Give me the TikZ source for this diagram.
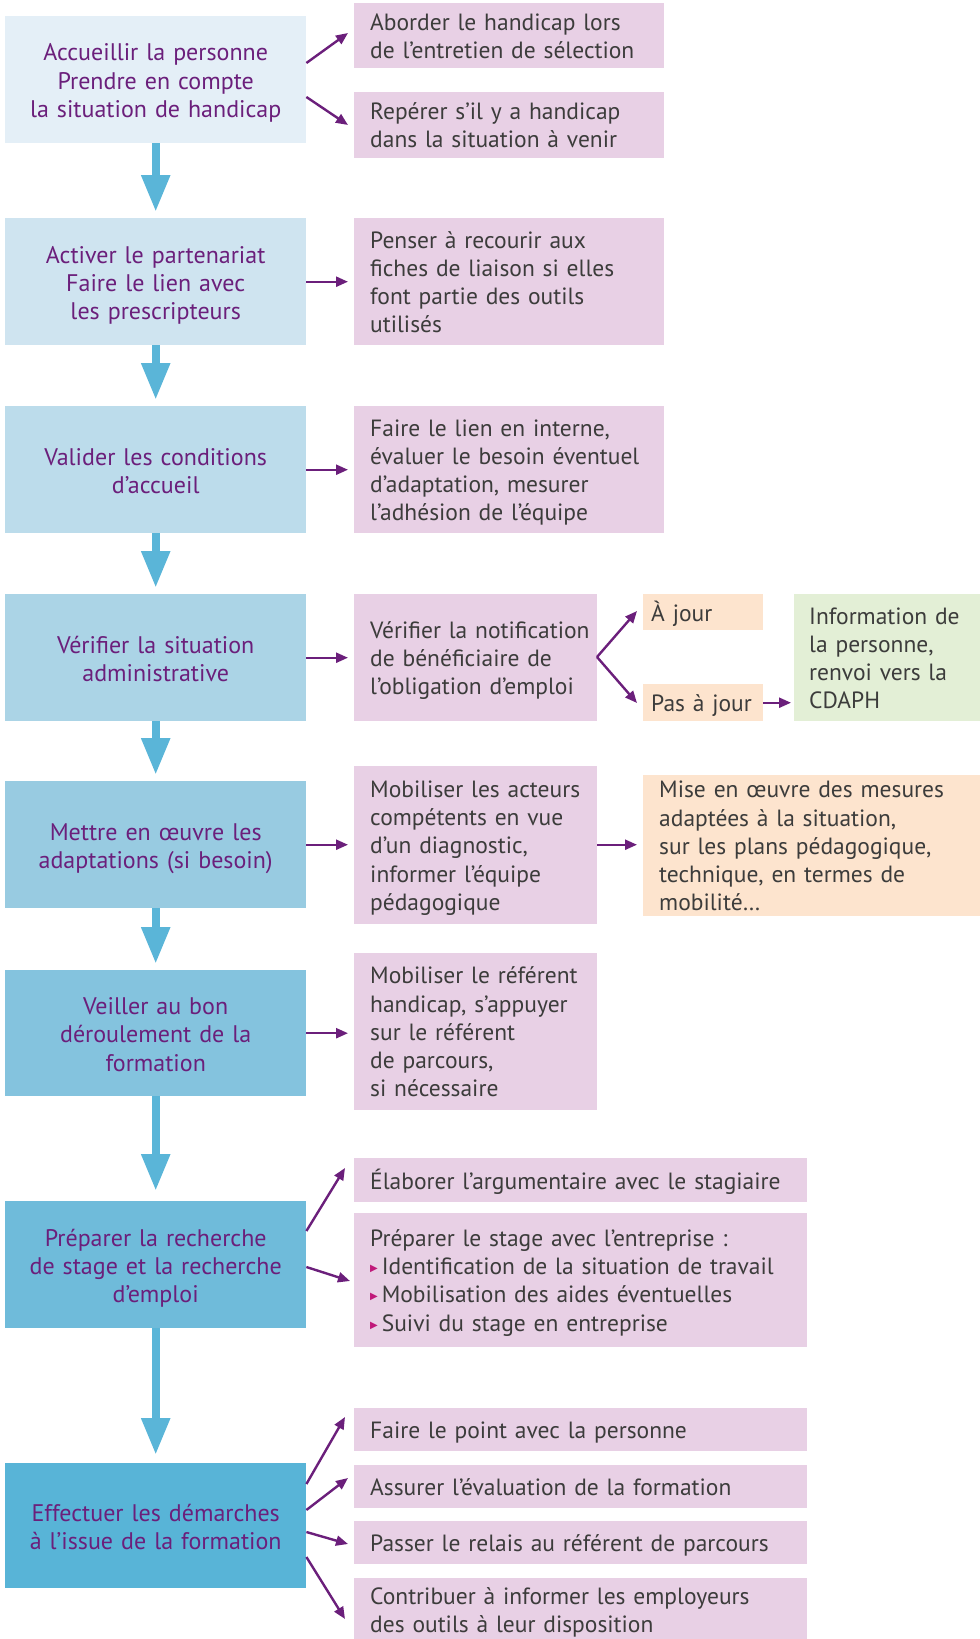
\documentclass[tikz,border=0pt]{standalone}
\usepackage{fontspec}
\setmainfont{PT Sans}
\newfontfamily\dejavu{DejaVu Sans}
\usetikzlibrary{arrows.meta}
\definecolor{ca}{HTML}{E4EFF7}
\definecolor{cb}{HTML}{CFE4F0}
\definecolor{cc}{HTML}{BCDCEB}
\definecolor{cd}{HTML}{ABD4E6}
\definecolor{ce}{HTML}{98CBE1}
\definecolor{cf}{HTML}{84C3DE}
\definecolor{cg}{HTML}{6FBBDA}
\definecolor{ch}{HTML}{58B4D7}
\definecolor{pinkc}{HTML}{E8D0E5}
\definecolor{orangec}{HTML}{FDE4CE}
\definecolor{greenc}{HTML}{E3EFD6}
\definecolor{purpc}{HTML}{6B1F7B}
\definecolor{textc}{HTML}{3C3C3B}
\definecolor{bluea}{HTML}{5AB5D8}
\definecolor{bulc}{HTML}{C0187A}
\newcommand{\bul}{{\dejavu\fontsize{10}{10}\selectfont\color{bulc}\raisebox{3pt}{▶}}\,}
\newcommand{\rl}[1]{\raisebox{-3pt}[\height][\depth]{\begin{tabular}{@{}l@{}}#1\end{tabular}}}
\newcommand{\lc}[1]{\raisebox{-4pt}[\height][\depth]{\begin{tabular}{@{}c@{}}#1\end{tabular}}}
\tikzset{
  lbox/.style={anchor=north west, minimum width=301pt, text width=295pt, align=center,
    inner sep=0pt, text=purpc, font=\fontsize{24}{28.2}\selectfont},
  rbox/.style={anchor=north west, inner xsep=16pt, inner ysep=0pt, align=left,
    text=textc, fill=pinkc, font=\fontsize{23.5}{28.2}\selectfont},
  flowarrow/.style={draw=bluea, line width=8.4pt, -{Triangle[width=27pt,length=37pt]}},
  parrow/.style={draw=purpc, line width=2.4pt, -{Triangle[width=10pt,length=12pt]}},
}
\begin{document}
\begin{tikzpicture}[x=1pt,y=-1pt]
\useasboundingbox (0,0) rectangle (980,1639);
% left column
\node[lbox, fill=ca, minimum height=127.3pt] (l1) at (5,15.7) {\lc{Accueillir la personne\\Prendre en compte\\la situation de handicap}};
\node[lbox, fill=cb, minimum height=127pt] (l2) at (5,218) {\lc{Activer le partenariat\\Faire le lien avec\\les prescripteurs}};
\node[lbox, fill=cc, minimum height=127pt] (l3) at (5,406) {\lc{Valider les conditions\\d’accueil}};
\node[lbox, fill=cd, minimum height=127pt] (l4) at (5,594) {\lc{Vérifier la situation\\administrative}};
\node[lbox, fill=ce, minimum height=127pt] (l5) at (5,781) {\lc{Mettre en œuvre les\\adaptations (si besoin)}};
\node[lbox, fill=cf, minimum height=126pt] (l6) at (5,970) {\lc{Veiller au bon\\déroulement de la\\formation}};
\node[lbox, fill=cg, minimum height=127pt] (l7) at (5,1201) {\lc{Préparer la recherche\\de stage et la recherche\\d’emploi}};
\node[lbox, fill=ch, minimum height=125pt] (l8) at (5,1463) {\lc{Effectuer les démarches\\à l’issue de la formation}};
% flow arrows
\draw[flowarrow] (l1.south) -- ([yshift=6pt]l2.north);
\draw[flowarrow] (l2.south) -- ([yshift=6pt]l3.north);
\draw[flowarrow] (l3.south) -- ([yshift=6pt]l4.north);
\draw[flowarrow] (l4.south) -- ([yshift=6pt]l5.north);
\draw[flowarrow] (l5.south) -- ([yshift=6pt]l6.north);
\draw[flowarrow] (l6.south) -- ([yshift=10pt]l7.north);
\draw[flowarrow] (l7.south) -- ([yshift=8pt]l8.north);
% right column
\node[rbox, minimum width=310pt, text width=278pt, minimum height=65pt] (r1a) at (354,3) {\rl{Aborder le handicap lors\\de l’entretien de sélection}};
\node[rbox, minimum width=310pt, text width=278pt, minimum height=66pt] (r1b) at (354,92) {\rl{Repérer s’il y a handicap\\dans la situation à venir}};
\node[rbox, minimum width=310pt, text width=278pt, minimum height=127pt] (r2) at (354,218) {\rl{Penser à recourir aux\\fiches de liaison si elles\\font partie des outils\\utilisés}};
\node[rbox, minimum width=310pt, text width=278pt, minimum height=127pt] (r3) at (354,406) {\rl{Faire le lien en interne,\\évaluer le besoin éventuel\\d’adaptation, mesurer\\l’adhésion de l’équipe}};
\node[rbox, minimum width=243pt, text width=211pt, minimum height=127pt] (r4) at (354,594) {\rl{Vérifier la notification\\de bénéficiaire de\\l’obligation d’emploi}};
\node[rbox, fill=orangec, minimum width=120pt, text width=104pt, minimum height=36pt, inner xsep=8pt] (r4a) at (643,594) {\rl{À jour}};
\node[rbox, fill=orangec, minimum width=120pt, text width=104pt, minimum height=37pt, inner xsep=8pt] (r4b) at (643,684) {\rl{Pas à jour}};
\node[rbox, fill=greenc, minimum width=186pt, text width=156pt, minimum height=127pt, inner xsep=15pt] (r4c) at (794,594) {\rl{Information de\\la personne,\\renvoi vers la\\CDAPH}};
\node[rbox, minimum width=243pt, text width=211pt, minimum height=158pt] (r5) at (354,766) {\rl{Mobiliser les acteurs\\compétents en vue\\d’un diagnostic,\\informer l’équipe\\pédagogique}};
\node[rbox, fill=orangec, minimum width=337pt, text width=305pt, minimum height=141pt] (r5a) at (643,775) {\rl{Mise en œuvre des mesures\\adaptées à la situation,\\sur les plans pédagogique,\\technique, en termes de\\mobilité…}};
\node[rbox, minimum width=243pt, text width=211pt, minimum height=157pt] (r6) at (354,953) {\rl{Mobiliser le référent\\handicap, s’appuyer\\sur le référent\\de parcours,\\si nécessaire}};
\node[rbox, minimum width=453pt, text width=421pt, minimum height=44pt] (r7a) at (354,1158) {\rl{Élaborer l’argumentaire avec le stagiaire}};
\node[rbox, minimum width=453pt, text width=421pt, minimum height=134pt] (r7b) at (354,1213) {\rl{Préparer le stage avec l’entreprise :\\\bul Identification de la situation de travail\\\bul Mobilisation des aides éventuelles\\\bul Suivi du stage en entreprise}};
\node[rbox, minimum width=453pt, text width=421pt, minimum height=43pt] (r8a) at (354,1408) {\rl{Faire le point avec la personne}};
\node[rbox, minimum width=453pt, text width=421pt, minimum height=43pt] (r8b) at (354,1465) {\rl{Assurer l’évaluation de la formation}};
\node[rbox, minimum width=453pt, text width=421pt, minimum height=43pt] (r8c) at (354,1521) {\rl{Passer le relais au référent de parcours}};
\node[rbox, minimum width=453pt, text width=421pt, minimum height=64pt] (r8d) at (354,1578) {\rl{Contribuer à informer les employeurs\\des outils à leur disposition}};
% purple arrows
\coordinate (f4) at (597,657);
\draw[parrow] (l1.east |- 0,63) -- (348,33);
\draw[parrow] (l1.east |- 0,97) -- (348,125);
\draw[parrow] (l2.east) -- ([xshift=-6pt]r2.west |- l2.east);
\draw[parrow] (l3.east) -- ([xshift=-6pt]r3.west |- l3.east);
\draw[parrow] (l4.east) -- ([xshift=-6pt]r4.west |- l4.east);
\draw[parrow] (l5.east) -- ([xshift=-6pt]r5.west |- l5.east);
\draw[parrow] (l6.east) -- ([xshift=-6pt]r6.west |- l6.east);
\draw[parrow] (f4) -- (637,611);
\draw[parrow] (f4) -- (637,703);
\draw[parrow] (r4b.east) -- ([xshift=-3pt]r4c.west |- r4b.east);
\draw[parrow] (r5.east |- l5.east) -- ([xshift=-6pt]r5a.west |- l5.east);
\draw[parrow] (l7.east |- 0,1231) -- (345,1168);
\draw[parrow] (l7.east |- 0,1267) -- (350,1281);
\draw[parrow] (l8.east |- 0,1484) -- (345,1417);
\draw[parrow] (l8.east |- 0,1510) -- (348,1478);
\draw[parrow] (l8.east |- 0,1532) -- (348,1544);
\draw[parrow] (l8.east |- 0,1557) -- (345,1619);
\end{tikzpicture}
\end{document}
